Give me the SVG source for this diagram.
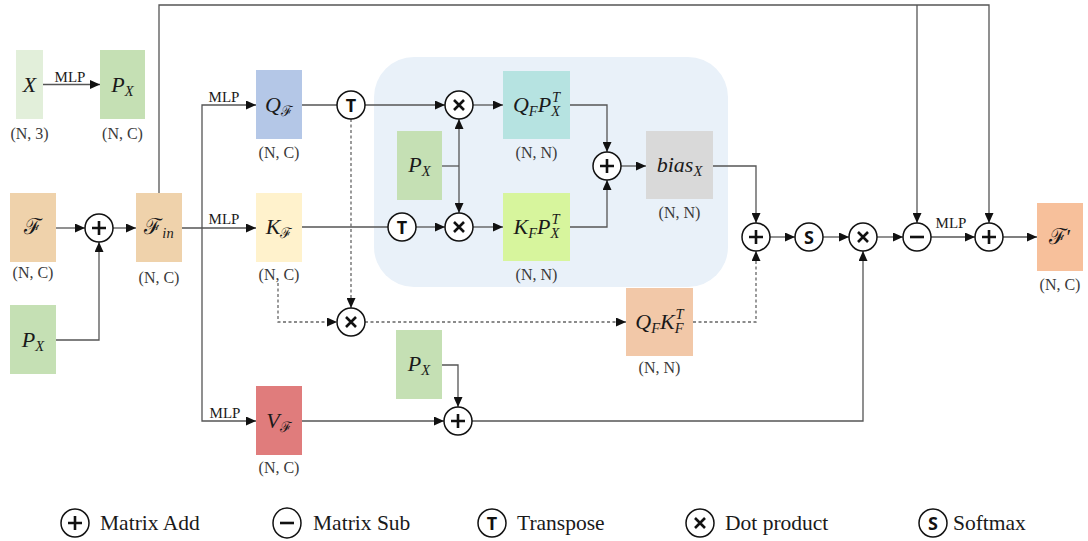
<svg xmlns="http://www.w3.org/2000/svg" width="1088" height="541" viewBox="0 0 1088 541">
<style>
.ln{fill:none;stroke:#555;stroke-width:1.3}
.dl{fill:none;stroke:#666;stroke-width:1.3;stroke-dasharray:3 2.5}
.op{fill:#fff;stroke:#111;stroke-width:1.5}
.sym{fill:none;stroke:#111;stroke-width:2.6;stroke-linecap:butt}
.m{font-family:"Liberation Serif","DejaVu Serif",serif;font-style:italic;font-size:22px;fill:#1a1a1a}
.s{font-size:14.5px}
.dim{font-family:"Liberation Serif",serif;font-size:16px;fill:#3a3a3a;text-anchor:middle}
.mlp{font-family:"Liberation Serif",serif;font-size:15px;fill:#1a1a1a;text-anchor:middle}
.lt{font-family:"Noto Sans","DejaVu Sans",sans-serif;font-weight:bold;font-size:18px;fill:#111;text-anchor:middle}
.lg{font-family:"Liberation Serif",serif;font-size:21.5px;fill:#1a1a1a}
</style>
<defs>
<marker id="ar" markerWidth="10" markerHeight="9" refX="10" refY="4.5" orient="auto" markerUnits="userSpaceOnUse">
<path d="M0,0 L10,4.5 L0,9 z" fill="#111"/>
</marker>
</defs>
<rect x="0" y="0" width="1088" height="541" fill="#fff"/>
<rect id="attn-bg" x="374" y="57" width="354" height="230" rx="40" ry="40" fill="#e9f1f9"/>

<g id="connectors">
<path class="ln" d="M43,84.5 H100" marker-end="url(#ar)"/>
<path class="ln" d="M56,228 H85" marker-end="url(#ar)"/>
<path class="ln" d="M56,340 H99 V242" marker-end="url(#ar)"/>
<path class="ln" d="M113,228 H136" marker-end="url(#ar)"/>
<path class="ln" d="M182,228 H256" marker-end="url(#ar)"/>
<path class="ln" d="M202,228 V105 H256" marker-end="url(#ar)"/>
<path class="ln" d="M202,228 V421 H256" marker-end="url(#ar)"/>
<path class="ln" d="M159,193 V5 H989 V223" marker-end="url(#ar)"/>
<path class="ln" d="M917,5 V223" marker-end="url(#ar)"/>
<path class="ln" d="M302,105 H337"/>
<path class="ln" d="M365,105 H445" marker-end="url(#ar)"/>
<path class="ln" d="M473,105 H503" marker-end="url(#ar)"/>
<path class="ln" d="M302,227 H388"/>
<path class="ln" d="M416,227 H445" marker-end="url(#ar)"/>
<path class="ln" d="M473,227 H503" marker-end="url(#ar)"/>
<path class="ln" d="M442,166 H459"/>
<path class="ln" d="M459,166 V119" marker-end="url(#ar)"/>
<path class="ln" d="M459,166 V213" marker-end="url(#ar)"/>
<path class="ln" d="M570,105 H607 V152" marker-end="url(#ar)"/>
<path class="ln" d="M570,227 H607 V180" marker-end="url(#ar)"/>
<path class="ln" d="M621,166 H646" marker-end="url(#ar)"/>
<path class="ln" d="M713,166 H756 V223" marker-end="url(#ar)"/>
<path class="dl" d="M351,119 V308" marker-end="url(#ar)"/>
<path class="dl" d="M278,283 V322 H337" marker-end="url(#ar)"/>
<path class="dl" d="M365,322 H626" marker-end="url(#ar)"/>
<path class="dl" d="M693,322 H756 V251" marker-end="url(#ar)"/>
<path class="ln" d="M302,421 H444" marker-end="url(#ar)"/>
<path class="ln" d="M442,365 H458 V407" marker-end="url(#ar)"/>
<path class="ln" d="M472,421 H863 V251" marker-end="url(#ar)"/>
<path class="ln" d="M770,237 H795" marker-end="url(#ar)"/>
<path class="ln" d="M823,237 H849" marker-end="url(#ar)"/>
<path class="ln" d="M877,237 H903" marker-end="url(#ar)"/>
<path class="ln" d="M931,237 H975" marker-end="url(#ar)"/>
<path class="ln" d="M1003,237 H1037" marker-end="url(#ar)"/>
<text class="mlp" x="70" y="82">MLP</text>
<text class="mlp" x="224" y="102">MLP</text>
<text class="mlp" x="224" y="224">MLP</text>
<text class="mlp" x="225" y="418">MLP</text>
<text class="mlp" x="951" y="228">MLP</text>
</g>

<g id="node-X">
<rect x="16" y="50" width="27" height="69" fill="#e2efda"/>
<text class="m" x="29.5" y="92" text-anchor="middle">X</text>
<text class="dim" x="29.5" y="139">(N, 3)</text>
</g>
<g id="node-PX-top">
<rect x="100" y="50" width="45" height="69" fill="#c5e0b4"/>
<text class="m" x="122.5" y="92" text-anchor="middle">P<tspan class="s" dy="4">X</tspan></text>
<text class="dim" x="122.5" y="139">(N, C)</text>
</g>
<g id="node-F">
<rect x="10" y="193" width="46" height="69" fill="#efd2ab"/>
<text class="m" x="33" y="234" text-anchor="middle" style="font-style:normal">ℱ</text>
<text class="dim" x="33" y="278">(N, C)</text>
</g>
<g id="node-PX-left">
<rect x="10" y="305" width="46" height="69" fill="#c5e0b4"/>
<text class="m" x="33" y="347" text-anchor="middle">P<tspan class="s" dy="4">X</tspan></text>
</g>
<g id="node-add-in">
<circle class="op" cx="99" cy="228" r="14"/>
<path class="sym" d="M92,228 H106 M99,221 V235"/>
</g>
<g id="node-Fin">
<rect x="136" y="193" width="46" height="69" fill="#efd2ab"/>
<text class="m" x="159" y="234" text-anchor="middle"><tspan style="font-style:normal">ℱ</tspan><tspan class="s" dy="4">in</tspan></text>
<text class="dim" x="159" y="283">(N, C)</text>
</g>
<g id="node-Q">
<rect x="256" y="70" width="46" height="69" fill="#b4c7e7"/>
<text class="m" x="279" y="112" text-anchor="middle">Q<tspan class="s" dy="4" style="font-style:normal">ℱ</tspan></text>
<text class="dim" x="279" y="158">(N, C)</text>
</g>
<g id="node-K">
<rect x="256" y="193" width="46" height="69" fill="#fff2cc"/>
<text class="m" x="279" y="234" text-anchor="middle">K<tspan class="s" dy="4" style="font-style:normal">ℱ</tspan></text>
<text class="dim" x="279" y="280">(N, C)</text>
</g>
<g id="node-V">
<rect x="256" y="386" width="46" height="69" fill="#e07c7c"/>
<text class="m" x="279" y="428" text-anchor="middle">V<tspan class="s" dy="4" style="font-style:normal">ℱ</tspan></text>
<text class="dim" x="279" y="473">(N, C)</text>
</g>
<g id="node-T1">
<circle class="op" cx="351" cy="105" r="14"/>
<text class="lt" x="351" y="111.5">T</text>
</g>
<g id="node-T2">
<circle class="op" cx="402" cy="227" r="14"/>
<text class="lt" x="402" y="233.5">T</text>
</g>
<g id="node-PX-inner">
<rect x="397" y="131" width="45" height="69" fill="#c5e0b4"/>
<text class="m" x="419.5" y="172" text-anchor="middle">P<tspan class="s" dy="4">X</tspan></text>
</g>
<g id="node-mulQ">
<circle class="op" cx="459" cy="105" r="14"/>
<path class="sym" d="M454,100 L464,110 M464,100 L454,110"/>
</g>
<g id="node-mulK">
<circle class="op" cx="459" cy="227" r="14"/>
<path class="sym" d="M454,222 L464,232 M464,222 L454,232"/>
</g>
<g id="node-QP">
<rect x="503" y="71" width="67" height="68" fill="#b6e3e1"/>
<text class="m" x="536.5" y="112" text-anchor="middle">Q<tspan class="s" dy="4">F</tspan><tspan dy="-4">P</tspan><tspan class="s" dy="4">X</tspan><tspan class="s" dx="-8" dy="-14">T</tspan></text>
<text class="dim" x="536.5" y="158">(N, N)</text>
</g>
<g id="node-KP">
<rect x="503" y="193" width="67" height="68" fill="#d7f59d"/>
<text class="m" x="536.5" y="234" text-anchor="middle">K<tspan class="s" dy="4">F</tspan><tspan dy="-4">P</tspan><tspan class="s" dy="4">X</tspan><tspan class="s" dx="-8" dy="-14">T</tspan></text>
<text class="dim" x="536.5" y="280">(N, N)</text>
</g>
<g id="node-addB">
<circle class="op" cx="607" cy="166" r="14"/>
<path class="sym" d="M600,166 H614 M607,159 V173"/>
</g>
<g id="node-bias">
<rect x="646" y="131" width="67" height="68" fill="#d9d9d9"/>
<text class="m" x="679.5" y="172" text-anchor="middle">bias<tspan class="s" dy="4">X</tspan></text>
<text class="dim" x="679.5" y="218">(N, N)</text>
</g>
<g id="node-mulQK">
<circle class="op" cx="351" cy="322" r="14"/>
<path class="sym" d="M346,317 L356,327 M356,317 L346,327"/>
</g>
<g id="node-QK">
<rect x="626" y="288" width="67" height="68" fill="#f2c8a8"/>
<text class="m" x="659.5" y="329" text-anchor="middle">Q<tspan class="s" dy="4">F</tspan><tspan dy="-4">K</tspan><tspan class="s" dy="4">F</tspan><tspan class="s" dx="-8" dy="-14">T</tspan></text>
<text class="dim" x="659.5" y="373">(N, N)</text>
</g>
<g id="node-PX-bottom">
<rect x="396" y="330" width="46" height="69" fill="#c5e0b4"/>
<text class="m" x="419" y="371" text-anchor="middle">P<tspan class="s" dy="4">X</tspan></text>
</g>
<g id="node-addV">
<circle class="op" cx="458" cy="421" r="14"/>
<path class="sym" d="M451,421 H465 M458,414 V428"/>
</g>
<g id="node-addM">
<circle class="op" cx="756" cy="237" r="14"/>
<path class="sym" d="M749,237 H763 M756,230 V244"/>
</g>
<g id="node-S">
<circle class="op" cx="809" cy="237" r="14"/>
<text class="lt" x="809" y="243.5">S</text>
</g>
<g id="node-mulM">
<circle class="op" cx="863" cy="237" r="14"/>
<path class="sym" d="M858,232 L868,242 M868,232 L858,242"/>
</g>
<g id="node-sub">
<circle class="op" cx="917" cy="237" r="14"/>
<path class="sym" d="M910,237 H924"/>
</g>
<g id="node-addF">
<circle class="op" cx="989" cy="237" r="14"/>
<path class="sym" d="M982,237 H996 M989,230 V244"/>
</g>
<g id="node-Fout">
<rect x="1037" y="203" width="46" height="68" fill="#f7c09b"/>
<text class="m" x="1060" y="244" text-anchor="middle" style="font-style:normal">ℱ′</text>
<text class="dim" x="1060" y="290">(N, C)</text>
</g>

<g id="legend">
<circle class="op" cx="75" cy="523" r="14"/>
<path class="sym" d="M68,523 H82 M75,516 V530"/>
<text class="lg" x="100" y="530">Matrix Add</text>
<ellipse class="op" cx="287" cy="523" rx="14" ry="15"/>
<path class="sym" d="M280,523 H294"/>
<text class="lg" x="313" y="530">Matrix Sub</text>
<circle class="op" cx="492" cy="523" r="14"/>
<text class="lt" x="492" y="529.5">T</text>
<text class="lg" x="517" y="530">Transpose</text>
<circle class="op" cx="700" cy="523" r="14"/>
<path class="sym" d="M695,518 L705,528 M705,518 L695,528"/>
<text class="lg" x="725" y="530">Dot product</text>
<circle class="op" cx="933" cy="523" r="14"/>
<text class="lt" x="933" y="529.5">S</text>
<text class="lg" x="953" y="530">Softmax</text>
</g>
</svg>
